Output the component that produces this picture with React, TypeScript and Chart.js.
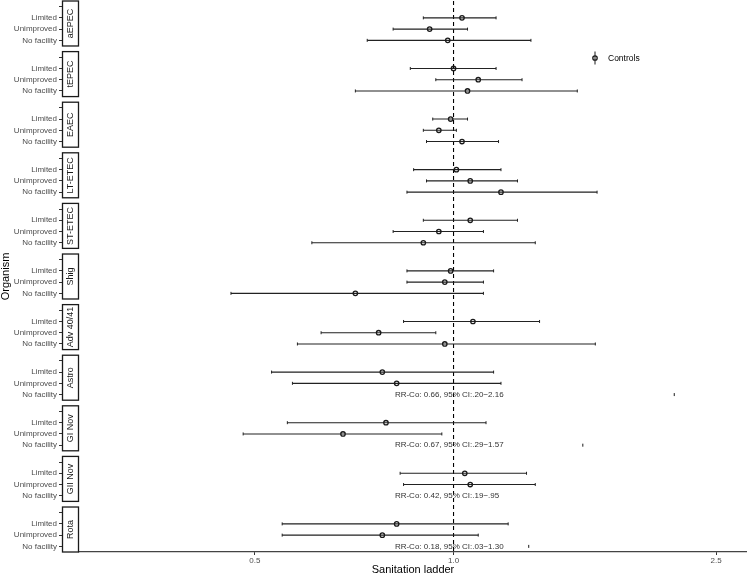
import React, { useEffect, useRef } from 'react';
import { Chart, registerables } from 'chart.js';

Chart.register(...registerables);

// ---- Data ----
const organisms = ['aEPEC', 'tEPEC', 'EAEC', 'LT-ETEC', 'ST-ETEC', 'Shig', 'Adv 40/41', 'Astro', 'GI Nov', 'GII Nov', 'Rota'];
const rowLabels = ['', 'Limited', 'Unimproved', 'No facility'];

const limitedEst = [1.03, 1.0, 0.99, 1.01, 1.06, 0.99, 1.07, 0.78, 0.79, 1.04, 0.82];
const limitedLo = [0.9, 0.86, 0.93, 0.87, 0.9, 0.85, 0.84, 0.53, 0.56, 0.83, 0.55];
const limitedHi = [1.16, 1.16, 1.05, 1.18, 1.25, 1.15, 1.35, 1.15, 1.12, 1.29, 1.21];

const unimprovedEst = [0.92, 1.09, 0.95, 1.06, 0.95, 0.97, 0.77, 0.82, 0.68, 1.06, 0.78];
const unimprovedLo = [0.81, 0.94, 0.9, 0.91, 0.81, 0.85, 0.63, 0.57, 0.48, 0.84, 0.55];
const unimprovedHi = [1.05, 1.27, 1.01, 1.25, 1.11, 1.11, 0.94, 1.18, 0.96, 1.33, 1.09];

const noFacilityEst = [0.98, 1.05, 1.03, 1.18, 0.9, 0.71, 0.97, null, null, null, null];
const noFacilityLo = [0.74, 0.71, 0.91, 0.85, 0.61, 0.46, 0.58, null, null, null, null];
const noFacilityHi = [1.31, 1.54, 1.17, 1.65, 1.33, 1.11, 1.64, null, null, null, null];

const controlOrganisms = ['Astro', 'GI Nov', 'GII Nov', 'Rota'];
const controlRR = [0.66, 0.67, 0.42, 0.18];
const controlLo = [0.2, 0.29, 0.19, 0.03];
const controlHi = [2.16, 1.57, 0.95, 1.3];
const controlCapShown = [true, true, false, true];

const xTickValues = [0.5, 1.0, 2.5];
const xTickLabels = ['0.5', '1.0', '2.5'];
const xMin = 0.2707;
const xMax = 2.784;
const refValue = 1.0;
const annotationX = 0.815;

// ---- Layout constants ----
const PANEL_STEP = 4.5;
const PANEL_PAD = 0.5;
const PANEL_HEIGHT = 4;
const Y_MAX = organisms.length * PANEL_STEP - PANEL_PAD;
const FONT = '"Liberation Sans", Arial, Helvetica, sans-serif';

const fmtCI = (v: number) => (v < 1 ? v.toFixed(2).replace(/^0/, '') : v.toFixed(2));
const rowY = (p: number, lvl: number) => p * PANEL_STEP + PANEL_PAD + lvl;

export default function App() {
  const ref = useRef<HTMLCanvasElement>(null);

  useEffect(() => {
    const canvas = ref.current;
    if (!canvas) return;

    const levelSets = [
      [limitedEst, limitedLo, limitedHi],
      [unimprovedEst, unimprovedLo, unimprovedHi],
      [noFacilityEst, noFacilityLo, noFacilityHi],
    ];
    const points: any[] = [];
    const bars: any[] = [];
    organisms.forEach((_, p) => {
      levelSets.forEach(([e, l, h], k) => {
        if (e[p] == null) return;
        const y = rowY(p, k + 1);
        points.push({ x: e[p], y });
        bars.push({ x: l[p], y }, { x: h[p], y }, { x: h[p], y: null });
      });
    });
    const ctrlMarks = controlOrganisms
      .map((o, i) => ({ x: controlHi[i], y: rowY(organisms.indexOf(o), 3), show: controlCapShown[i] }))
      .filter((d) => d.show)
      .map(({ x, y }) => ({ x, y }));
    const yTicks: number[] = [];
    const yTickText: Record<string, string> = {};
    organisms.forEach((_, p) =>
      rowLabels.forEach((lab, k) => {
        const v = rowY(p, k);
        yTicks.push(v);
        yTickText[v.toFixed(2)] = lab;
      })
    );

    const decor = {
      id: 'facetDecor',
      afterDraw(chart: any) {
        const { ctx, scales } = chart;
        const xs = scales.x;
        const ys = scales.y;
        const area = chart.chartArea;
        ctx.save();
        // strips
        organisms.forEach((name, p) => {
          const top = ys.getPixelForValue(p * PANEL_STEP);
          const bot = ys.getPixelForValue(p * PANEL_STEP + PANEL_HEIGHT);
          const l = 62.5;
          const r = area.left - 0.5;
          ctx.fillStyle = '#ffffff';
          ctx.fillRect(l, top, r - l, bot - top);
          ctx.strokeStyle = '#1a1a1a';
          ctx.lineWidth = 1.3;
          ctx.strokeRect(l, top, r - l, bot - top);
          ctx.save();
          ctx.translate((l + r) / 2, (top + bot) / 2);
          ctx.rotate(-Math.PI / 2);
          ctx.fillStyle = '#1a1a1a';
          ctx.font = `9px ${FONT}`;
          ctx.textAlign = 'center';
          ctx.textBaseline = 'middle';
          ctx.fillText(name, 0, 0.5);
          ctx.restore();
        });
        // RR-Co annotations
        ctx.fillStyle = '#333333';
        ctx.font = `8px ${FONT}`;
        ctx.textAlign = 'left';
        ctx.textBaseline = 'middle';
        controlOrganisms.forEach((o, i) => {
          const txt = `RR-Co: ${controlRR[i].toFixed(2)}, 95% CI:${fmtCI(controlLo[i])}\u2212${fmtCI(controlHi[i])}`;
          const px = xs.getPixelForValue(annotationX);
          const py = ys.getPixelForValue(rowY(organisms.indexOf(o), 3));
          ctx.fillText(txt, px, py);
        });
        // legend
        const lx = 595;
        const ly = 58;
        ctx.strokeStyle = '#1a1a1a';
        ctx.lineWidth = 1;
        ctx.beginPath();
        ctx.moveTo(lx, ly - 6.5);
        ctx.lineTo(lx, ly + 6.5);
        ctx.stroke();
        ctx.lineWidth = 1.3;
        ctx.beginPath();
        ctx.arc(lx, ly, 2.2, 0, Math.PI * 2);
        ctx.stroke();
        ctx.fillStyle = '#000000';
        ctx.font = `8.5px ${FONT}`;
        ctx.textAlign = 'left';
        ctx.textBaseline = 'middle';
        ctx.fillText('Controls', 608, ly + 0.5);
        ctx.restore();
      },
    };

    const chart = new Chart(canvas, {
      type: 'scatter',
      data: {
        datasets: [
          {
            label: 'Estimates',
            data: points,
            pointStyle: 'circle',
            pointRadius: 2.2,
            pointBorderWidth: 1.3,
            pointBorderColor: '#1a1a1a',
            pointBackgroundColor: 'rgba(255,255,255,0)',
            showLine: false,
          },
          {
            label: 'Controls',
            data: ctrlMarks,
            pointStyle: 'line',
            rotation: 90,
            pointRadius: 1.5,
            pointBorderWidth: 1,
            pointBorderColor: '#1a1a1a',
            showLine: false,
          },
          {
            label: 'CI',
            data: bars,
            showLine: true,
            spanGaps: false,
            borderColor: '#222222',
            borderWidth: 1.1,
            pointStyle: 'line',
            rotation: 90,
            pointRadius: 1.5,
            pointBorderWidth: 1,
            pointBorderColor: '#222222',
          },
          {
            label: 'Reference',
            data: [
              { x: refValue, y: 0 },
              { x: refValue, y: Y_MAX },
            ],
            showLine: true,
            borderColor: '#000000',
            borderWidth: 1.1,
            borderDash: [4, 3],
            pointRadius: 0,
          },
        ],
      },
      options: {
        animation: false,
        responsive: true,
        maintainAspectRatio: false,
        events: [],
        layout: { autoPadding: false, padding: { top: 1, left: 0, right: 0, bottom: 0 } },
        plugins: { legend: { display: false }, tooltip: { enabled: false } },
        scales: {
          x: {
            type: 'logarithmic',
            min: xMin,
            max: xMax,
            afterBuildTicks: (s: any) => {
              s.ticks = xTickValues.map((v) => ({ value: v }));
            },
            afterFit: (s: any) => {
              s.height = 23;
              s.paddingLeft = 0;
              s.paddingRight = 0;
            },
            ticks: {
              autoSkip: false,
              maxRotation: 0,
              padding: 1,
              color: '#4d4d4d',
              font: { family: FONT, size: 8 },
              callback: (v: any) => {
                const i = xTickValues.indexOf(Number(v));
                return i >= 0 ? xTickLabels[i] : '';
              },
            },
            grid: { drawOnChartArea: false, drawTicks: true, tickLength: 3, color: '#333333' },
            border: { display: true, color: '#444444', width: 1.2 },
            title: {
              display: true,
              text: 'Sanitation ladder',
              color: '#000000',
              font: { family: FONT, size: 11, lineHeight: 1 },
              padding: { top: 0, bottom: 0 },
            },
          },
          y: {
            type: 'linear',
            reverse: true,
            min: 0,
            max: Y_MAX,
            afterBuildTicks: (s: any) => {
              s.ticks = yTicks.map((v) => ({ value: v }));
            },
            afterFit: (s: any) => {
              s.width = 79;
              s.paddingTop = 0;
              s.paddingBottom = 0;
            },
            ticks: {
              autoSkip: false,
              padding: 2,
              color: '#4d4d4d',
              font: { family: FONT, size: 8 },
              callback: (v: any) => yTickText[Number(v).toFixed(2)] ?? '',
            },
            grid: { drawOnChartArea: false, drawTicks: true, tickLength: 20, color: '#333333' },
            border: { display: false },
            title: {
              display: true,
              text: 'Organism',
              color: '#000000',
              font: { family: FONT, size: 11, lineHeight: 1 },
              padding: { top: 0, bottom: 0 },
            },
          },
        },
      },
      plugins: [decor],
    } as any);

    return () => chart.destroy();
  }, []);

  return (
    <div style={{ position: 'fixed', left: 0, top: 0, width: 747, height: 575, background: '#ffffff' }}>
      <canvas ref={ref} />
    </div>
  );
}
